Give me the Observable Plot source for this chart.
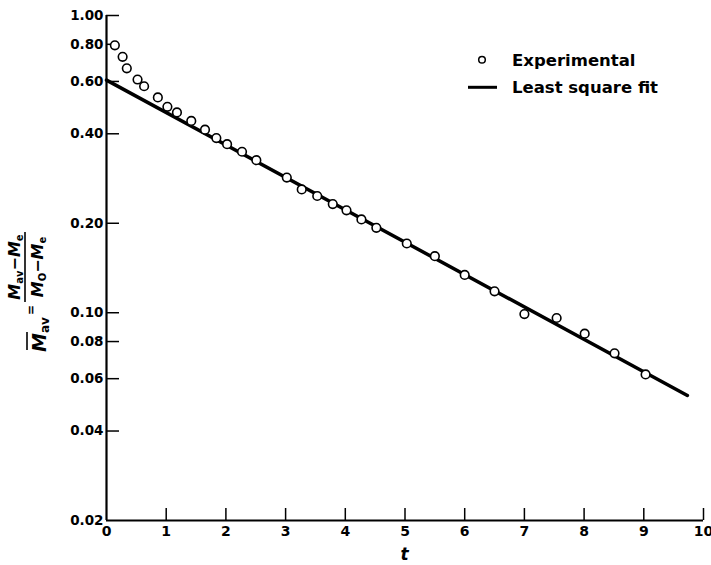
<!DOCTYPE html>
<html><head><meta charset="utf-8">
<script src="https://cdn.jsdelivr.net/npm/d3@7"></script>
<script src="https://cdn.jsdelivr.net/npm/@observablehq/plot@0.6"></script>
<style>body{margin:0;background:#fff} svg{display:block}</style>
</head><body><div id="chart"></div>
<script>
// Experimental points
const expT = [0.14,0.27,0.34,0.52,0.63,0.86,1.02,1.18,1.42,1.65,1.84,2.02,2.27,2.51,3.02,3.27,3.53,3.79,4.02,4.27,4.52,5.03,5.50,6.00,6.50,7.00,7.54,8.01,8.51,9.03];
const expV = [0.794,0.726,0.664,0.609,0.578,0.530,0.493,0.472,0.442,0.413,0.387,0.369,0.348,0.326,0.285,0.260,0.247,0.232,0.221,0.206,0.193,0.171,0.155,0.134,0.118,0.099,0.096,0.085,0.073,0.062];
// Least square fit line (end points)
const fitT = [0, 9.73];
const fitV = [0.606, 0.0527];
// Ticks
const xTicks = [0,1,2,3,4,5,6,7,8,9,10];
const yTicks = [0.02,0.04,0.06,0.08,0.10,0.20,0.40,0.60,0.80,1.00];
const legendLabels = ["Experimental", "Least square fit"];
const xLabel = "t";

const W = 711, H = 565, mL = 106, mR = 8, mT = 15, mB = 45;
const frameW = W - mL - mR, frameH = H - mT - mB;
const font = "DejaVu Sans";

const exp = expT.map((t, i) => ({t, v: expV[i]}));
const fit = fitT.map((t, i) => ({t, v: fitV[i]}));

const plot = Plot.plot({
  width: W, height: H,
  marginLeft: mL, marginRight: mR, marginTop: mT, marginBottom: mB,
  style: {fontFamily: font, fontWeight: "bold", color: "#000", background: "#fff"},
  x: {domain: [0, 10]},
  y: {type: "log", domain: [0.02, 1]},
  marks: [
    Plot.axisX({ticks: xTicks, tickSize: 0, tickPadding: 6, tickFormat: d => String(d), label: null, fontSize: 14}),
    Plot.axisY({ticks: [], label: null}),
    Plot.text(yTicks, {y: d => d, text: d3.format(".2f"), frameAnchor: "left", textAnchor: "end", dx: -3, fontSize: 13.5, fill: "#000"}),
    Plot.tickX(xTicks.filter(d => d > 0), {x: d => d, insetTop: frameH - 12, stroke: "#000", strokeWidth: 1.5}),
    Plot.tickY(yTicks.filter(d => d > 0.02), {y: d => d, insetRight: frameW - 13, stroke: "#000", strokeWidth: 1.5}),
    Plot.ruleX([0], {stroke: "#000", strokeWidth: 2.2}),
    Plot.ruleY([0.02], {stroke: "#000", strokeWidth: 2.2}),
    Plot.line(fit, {x: "t", y: "v", stroke: "#000", strokeWidth: 3.5}),
    Plot.dot(exp, {x: "t", y: "v", r: 4.3, stroke: "#000", strokeWidth: 1.6, fill: "#fff"})
  ]
});
document.getElementById("chart").appendChild(plot);

const svg = d3.select(plot);
const g = svg.append("g").attr("font-family", font).attr("font-weight", "bold")
  .attr("fill", "#000").attr("text-anchor", "start");

// Legend
g.append("circle").attr("cx", 482).attr("cy", 59.7).attr("r", 3.3)
  .attr("fill", "#fff").attr("stroke", "#000").attr("stroke-width", 1.5);
g.append("text").attr("x", 512).attr("y", 65.5).attr("font-size", 16.5).text(legendLabels[0]);
g.append("line").attr("x1", 468).attr("x2", 497).attr("y1", 87.3).attr("y2", 87.3)
  .attr("stroke", "#000").attr("stroke-width", 3);
g.append("text").attr("x", 512).attr("y", 93).attr("font-size", 16.5).text(legendLabels[1]);

// X label
g.append("text").attr("x", (mL + W - mR) / 2).attr("y", 560).attr("text-anchor", "middle")
  .attr("font-size", 17).attr("font-style", "italic").text(xLabel);

// Y label (rotated fraction)
const yl = g.append("g").attr("transform", "translate(46,352) rotate(-90)")
  .attr("font-style", "italic").attr("text-anchor", "start");
function mterm(sel, parts, big, small) {
  sel.attr("font-size", big);
  parts.forEach(p => {
    const ts = sel.append("tspan").text(p.t);
    if (p.sub) ts.attr("font-size", small).attr("font-style", "normal").attr("dy", 3);
    else if (p.up) ts.attr("dy", -3);
  });
}
const lhs = yl.append("text").attr("x", 0).attr("y", 0);
mterm(lhs, [{t: "M"}, {t: "av", sub: true}], 19, 12);
yl.append("line").attr("x1", 2).attr("x2", 20).attr("y1", -19).attr("y2", -19)
  .attr("stroke", "#000").attr("stroke-width", 1.6);
yl.append("text").attr("x", 42).attr("y", -11).attr("text-anchor", "middle").attr("font-style", "normal").attr("font-size", 12).text("=");
const num = yl.append("text").attr("x", 85).attr("y", -26).attr("text-anchor", "middle");
mterm(num, [{t: "M"}, {t: "av", sub: true}, {t: "\u2212", up: true}, {t: "M"}, {t: "e", sub: true}], 16, 10);
yl.append("line").attr("x1", 50).attr("x2", 120).attr("y1", -21).attr("y2", -21)
  .attr("stroke", "#000").attr("stroke-width", 1.6);
const den = yl.append("text").attr("x", 85).attr("y", -3).attr("text-anchor", "middle");
mterm(den, [{t: "M"}, {t: "O", sub: true}, {t: "\u2212", up: true}, {t: "M"}, {t: "e", sub: true}], 16, 10);
</script>
</body></html>
